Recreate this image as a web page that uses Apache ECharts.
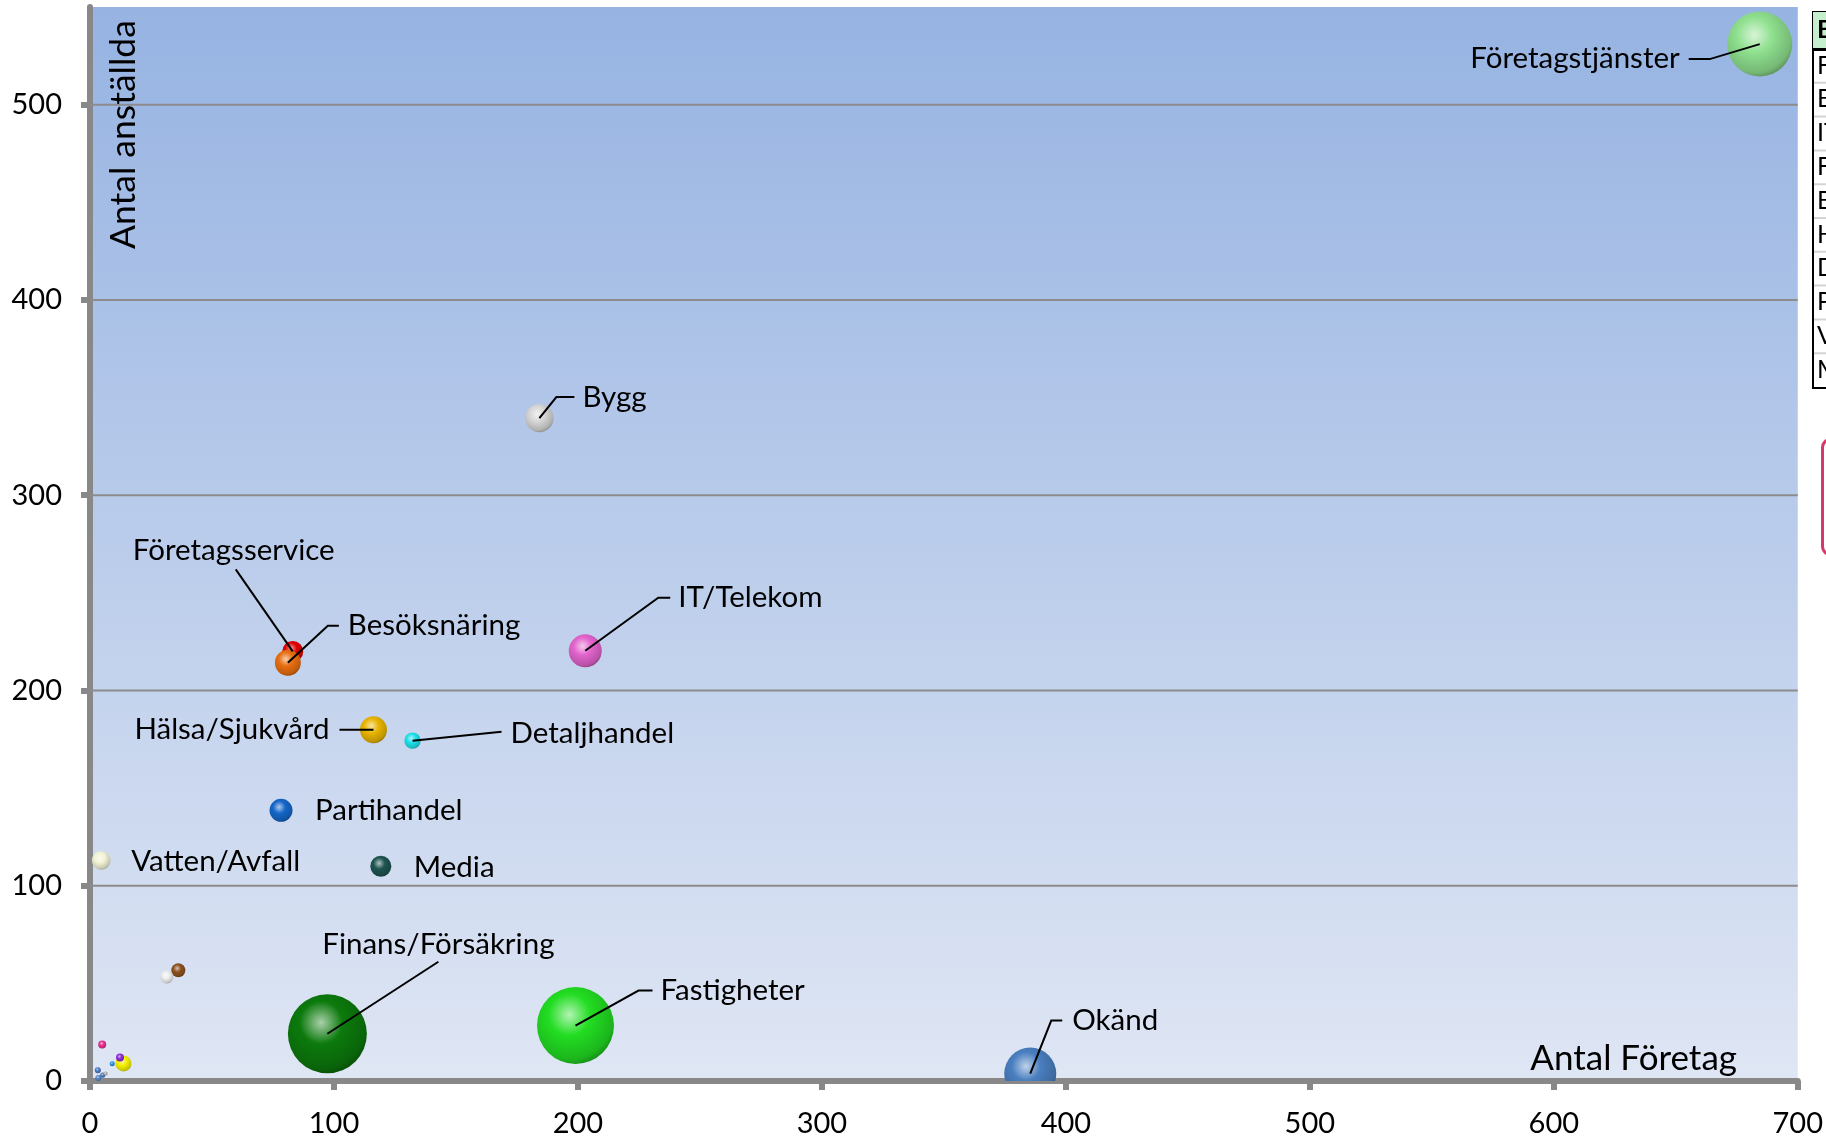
<!DOCTYPE html>
<html><head><meta charset="utf-8">
<script src="https://cdn.jsdelivr.net/npm/echarts@6/dist/echarts.min.js"></script>
<style>html,body{margin:0;padding:0;background:#fff}#c{width:1826px;height:1138px}</style>
</head><body><div id="c"></div>
<script>
// ---- DATA ----
const names = ['Företagstjänster','Bygg','Företagsservice','Besöksnäring','IT/Telekom','Hälsa/Sjukvård','Detaljhandel','Partihandel','Vatten/Avfall','Media','Finans/Försäkring','Fastigheter','Okänd','','','','','','','','','',''];
const antalForetag = [684.4,184.2,83.1,81.1,203,116.2,132.2,78.3,4.6,119.2,97.3,199,385.4,36.2,31.5,5.0,13.7,12.3,9.1,3.2,3.4,5.2,6.4];
const antalAnstallda = [531,339.5,220,214.2,220.3,179.9,174.3,138.6,113,110,24.2,28.4,3.8,56.7,53.3,18.7,9.0,12.0,8.8,5.5,1.6,3.0,3.8];
const bubbleValue = [264,50,27.6,42,68,45.6,16.8,33,22,27.6,390,370,169,12.25,10.6,4,16,4,1.6,2.25,2.25,1.6,1];
const xTicks = [0,100,200,300,400,500,600,700];
const yTicks = [0,100,200,300,400,500];
const xTitle = 'Antal Företag';
const yTitle = 'Antal anställda';
const tableHeader = 'Bransch';
const tableRows = ['Företagstjänster','Bygg','IT/Telekom','Företagsservice','Besöksnäring','Hälsa/Sjukvård','Detaljhandel','Partihandel','Vatten/Avfall','Media'];

// ---- STYLE ----
const colors = ['#8fe08f','#d6d6d6','#e00000','#e86e10','#e264cc','#e8b400','#1ee0e8','#1466c8','#f2f2d6','#1e5450','#0c7a0c','#22dd22','#4a7fc0','#8c5020','#eeeeee','#e8308c','#f4f000','#9030d8','#2a90e0','#4a7ac0','#5a86c4','#4a7ac0','#b0b0b0'];
const labelLayout = [
  {line:[[0,0],[-50,15],[-71,15]], tx:-80, ty:14, align:'right'},
  {line:[[0,0],[17,-21],[35,-21]], tx:43, ty:-21, align:'left'},
  {line:[[0,0],[-57,-82]], tx:-59, ty:-101, align:'center'},
  {line:[[0,0],[40,-37],[51,-37]], tx:60, ty:-37, align:'left'},
  {line:[[0,0],[73,-53],[85,-53]], tx:93, ty:-53, align:'left'},
  {line:[[0,0],[-34,0]], tx:-44, ty:0, align:'right'},
  {line:[[0,0],[89,-9]], tx:98, ty:-7, align:'left'},
  {line:null, tx:34, ty:0, align:'left'},
  {line:null, tx:30, ty:1, align:'left'},
  {line:null, tx:33, ty:1, align:'left'},
  {line:[[0,0],[111,-72]], tx:111, ty:-89, align:'center'},
  {line:[[0,0],[63,-35],[77,-35]], tx:85, ty:-35, align:'left'},
  {line:[[0,0],[21,-53],[32,-53]], tx:42, ty:-53, align:'left'}
];
const FONT = 'Lato, "Open Sans", sans-serif';
const AXIS_GRAY = '#888888';

function hexToRgb(h){h=h.replace('#','');return [parseInt(h.slice(0,2),16),parseInt(h.slice(2,4),16),parseInt(h.slice(4,6),16)];}
function mix(h,t,a){const c=hexToRgb(h);const tc=t==='w'?[255,255,255]:[0,0,0];return 'rgb('+c.map((v,i)=>Math.round(v+(tc[i]-v)*a)).join(',')+')';}
function sphere(h){return {type:'radial',x:0.42,y:0.36,r:0.68,colorStops:[
  {offset:0,color:mix(h,'w',0.65)},{offset:0.4,color:h},{offset:0.85,color:mix(h,'k',0.18)},{offset:1,color:mix(h,'k',0.38)}]};}

const pts = names.map((n,i)=>[antalForetag[i],antalAnstallda[i],bubbleValue[i],i]);

const chart = echarts.init(document.getElementById('c'),null,{renderer:'canvas'});
const tableGraphics = [];
const tX = 1812, tY = 11, rowH = 33.8, headH = 38;
tableGraphics.push({type:'rect',left:tX,top:tY,shape:{width:60,height:headH+rowH*tableRows.length},style:{fill:'#fff',stroke:'#000',lineWidth:2},z:10});
tableGraphics.push({type:'rect',left:tX+1,top:tY+1,shape:{width:60,height:headH-2},style:{fill:'#C6EFCE'},z:11});
tableGraphics.push({type:'text',left:tX+5,top:tY+6,style:{text:tableHeader,font:'bold 25px '+FONT,fill:'#000'},z:12});
tableGraphics.push({type:'rect',left:tX,top:tY+headH-1,shape:{width:60,height:3},style:{fill:'#000'},z:12});
tableRows.forEach((r,k)=>{
  const y0 = tY+headH+rowH*k;
  if(k>0) tableGraphics.push({type:'rect',left:tX+2,top:y0-1,shape:{width:60,height:2},style:{fill:'#d4d4d4'},z:11});
  tableGraphics.push({type:'text',left:tX+5,top:y0+4,style:{text:r,font:'25px '+FONT,fill:'#000'},z:12});
});
tableGraphics.push({type:'rect',left:1821,top:438,shape:{width:40,height:115,r:8},style:{fill:'#fff',stroke:'#D6386A',lineWidth:3},z:10});

chart.setOption({
  animation:false,
  backgroundColor:'#fff',
  grid:{left:90,right:28,top:7,bottom:56,show:true,borderWidth:0,
    backgroundColor:{type:'linear',x:0,y:0,x2:0,y2:1,colorStops:[{offset:0,color:'#96B3E2'},{offset:1,color:'#DFE6F4'}]}},
  xAxis:{type:'value',min:0,max:700,interval:100,
    axisLine:{show:true,onZero:false,lineStyle:{color:AXIS_GRAY,width:6}},
    axisTick:{show:true,length:9,lineStyle:{color:AXIS_GRAY,width:6}},
    axisLabel:{fontSize:29,fontFamily:FONT,color:'#000',margin:28,customValues:xTicks},
    splitLine:{show:false}},
  yAxis:{type:'value',min:0,max:550,interval:100,
    axisLine:{show:true,onZero:false,lineStyle:{color:AXIS_GRAY,width:6}},
    axisTick:{show:true,length:9,lineStyle:{color:AXIS_GRAY,width:6},customValues:yTicks},
    axisLabel:{fontSize:29,fontFamily:FONT,color:'#000',margin:28,customValues:yTicks},
    splitLine:{show:false}},
  graphic:[
    {type:'text',x:124,y:249,rotation:Math.PI/2,style:{text:yTitle,font:'35.5px '+FONT,fill:'#000',align:'left',verticalAlign:'middle'},z:5},
    {type:'text',x:1737,y:1059,style:{text:xTitle,font:'35px '+FONT,fill:'#000',align:'right',verticalAlign:'middle'},z:5}
  ].concat(tableGraphics),
  series:[
    {type:'custom',name:'grid',silent:true,z:1,data:yTicks.filter(v=>v>0).map(v=>[0,v]),
      renderItem:(params,api)=>{
        const cs=params.coordSys; const y=api.coord([0,api.value(1)])[1];
        return {type:'line',shape:{x1:cs.x,y1:y,x2:cs.x+cs.width,y2:y},style:{stroke:'#8c8c8c',lineWidth:2}};
      }},
    {type:'custom',name:'bubbles',clip:true,z:2,data:pts,
      renderItem:(params,api)=>{
        const c=api.coord([api.value(0),api.value(1)]);
        const r=2*Math.sqrt(api.value(2));
        return {type:'circle',shape:{cx:c[0],cy:c[1],r:r},style:{fill:sphere(colors[api.value(3)])}};
      }},
    {type:'custom',name:'labels',clip:false,z:3,silent:true,data:pts,
      renderItem:(params,api)=>{
        const i=api.value(3); const L=labelLayout[i];
        if(!names[i]||!L) return null;
        const c=api.coord([api.value(0),api.value(1)]);
        const ch=[];
        if(L.line) ch.push({type:'polyline',shape:{points:L.line.map(p=>[c[0]+p[0],c[1]+p[1]])},style:{stroke:'#000',lineWidth:2,fill:null}});
        ch.push({type:'text',x:c[0]+L.tx,y:c[1]+L.ty,style:{text:names[i],font:'29.5px '+FONT,fill:'#000',align:L.align,verticalAlign:'middle'}});
        return {type:'group',children:ch};
      }}
  ]
});
</script></body></html>
